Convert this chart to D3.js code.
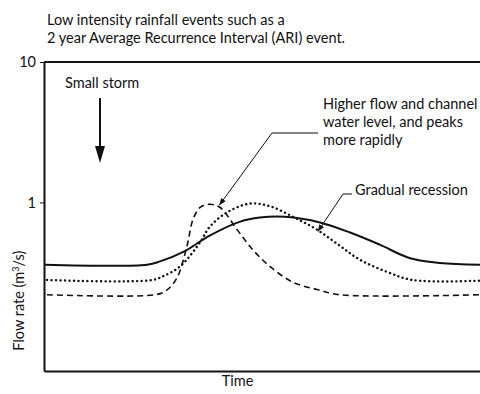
<!DOCTYPE html>
<html>
<head>
<meta charset="utf-8">
<script src="https://cdn.jsdelivr.net/npm/d3@7/dist/d3.min.js"></script>
<style>
  body { margin: 0; background: #fff; }
  svg text { font-family: 'Lato', 'Open Sans', sans-serif; fill: #111; }
</style>
</head>
<body>
<div id="chart"></div>
<script>
// time (0-100, arbitrary units) and flow rate (m3/s)
const solidTime = [0, 23.6, 26.6, 32.3, 38, 45, 49.5, 55.3, 63.3, 70.2, 77, 84, 90.8, 100];
const solidFlow = [0.36, 0.36, 0.38, 0.45, 0.58, 0.73, 0.78, 0.79, 0.72, 0.61, 0.5, 0.4, 0.37, 0.36];

const dottedTime = [0.7, 24.8, 27.5, 31.2, 35.8, 38, 42, 47.2, 51.8, 57.1, 62.6, 67.9, 72.5, 78.7, 84.6, 100];
const dottedFlow = [0.28, 0.28, 0.30, 0.35, 0.52, 0.67, 0.85, 0.98, 0.94, 0.79, 0.64, 0.49, 0.39, 0.32, 0.28, 0.277];

const dashedTime = [0.7, 25.5, 28, 30.5, 32.8, 34.2, 35.8, 38, 40.4, 44.3, 47.9, 51.8, 57.1, 62.6, 67.9, 100];
const dashedFlow = [0.22, 0.22, 0.235, 0.29, 0.49, 0.76, 0.92, 0.97, 0.92, 0.64, 0.46, 0.35, 0.27, 0.24, 0.22, 0.22];

const yTicks = [1, 10];
const titleLines = ['Low intensity rainfall events such as a', '2 year Average Recurrence Interval (ARI) event.'];
const noteLines = ['Higher flow and channel', 'water level, and peaks', 'more rapidly'];

const W = 480, H = 394;
const margin = { top: 62, right: 0, bottom: 23, left: 44 };
const fs = '14.5px';

const svg = d3.select('#chart').append('svg')
  .attr('width', W)
  .attr('height', H);

const x = d3.scaleLinear().domain([0, 100]).range([margin.left, W - margin.right]);
const y = d3.scaleLog().domain([0.063, 10]).range([H - margin.bottom, margin.top]);

const defs = svg.append('defs');
defs.append('marker')
  .attr('id', 'head')
  .attr('viewBox', '0 0 10 10')
  .attr('refX', 10).attr('refY', 5)
  .attr('markerWidth', 7).attr('markerHeight', 7)
  .attr('markerUnits', 'userSpaceOnUse')
  .attr('orient', 'auto')
  .append('path').attr('d', 'M0,1 L10,5 L0,9 Z').attr('fill', '#111');

// title
svg.append('g').selectAll('text')
  .data(titleLines)
  .enter().append('text')
  .attr('x', 47)
  .attr('y', (d, i) => 25 + i * 18)
  .attr('font-size', fs)
  .text(d => d);

// axes
svg.append('g')
  .attr('transform', `translate(${margin.left},0)`)
  .call(d3.axisLeft(y).tickValues(yTicks).tickSize(4).tickSizeOuter(0).tickPadding(4).tickFormat(d3.format('d')))
  .call(g => g.select('.domain').attr('stroke', '#111').attr('stroke-width', 2))
  .call(g => g.selectAll('.tick line').attr('stroke', '#111'))
  .call(g => g.selectAll('.tick text').attr('font-size', fs).attr('font-family', 'Lato, sans-serif').attr('fill', '#111'));

svg.append('g')
  .attr('transform', `translate(0,${H - margin.bottom})`)
  .call(d3.axisBottom(x).tickValues([]).tickSizeOuter(0))
  .call(g => g.select('.domain').attr('stroke', '#111').attr('stroke-width', 2));

svg.append('line')
  .attr('x1', x(0)).attr('x2', x(100))
  .attr('y1', y(10)).attr('y2', y(10))
  .attr('stroke', '#111').attr('stroke-width', 2);

svg.append('text')
  .attr('transform', `translate(24,${(y(1) + y(0.063)) / 2 + 14}) rotate(-90)`)
  .attr('text-anchor', 'middle')
  .attr('font-size', fs)
  .html('Flow rate (m<tspan dy="-5" font-size="9px">3</tspan><tspan dy="5">/s)</tspan>');

svg.append('text')
  .attr('x', x(44.4))
  .attr('y', 386)
  .attr('text-anchor', 'middle')
  .attr('font-size', fs)
  .text('Time');

// curves
const line = d3.line()
  .x(d => x(d[0]))
  .y(d => y(d[1]))
  .curve(d3.curveCatmullRom.alpha(0.5));

const series = [
  { t: solidTime, v: solidFlow, dash: null, w: 2, cap: 'butt' },
  { t: dottedTime, v: dottedFlow, dash: '0.1,4.4', w: 2.4, cap: 'round' },
  { t: dashedTime, v: dashedFlow, dash: '6,4', w: 1.6, cap: 'butt' }
];

svg.append('g').selectAll('path')
  .data(series)
  .enter().append('path')
  .attr('d', s => line(s.t.map((t, i) => [t, s.v[i]])))
  .attr('fill', 'none')
  .attr('stroke', '#111')
  .attr('stroke-width', s => s.w)
  .attr('stroke-linecap', s => s.cap)
  .attr('stroke-dasharray', s => s.dash);

// annotations
svg.append('text')
  .attr('x', 65).attr('y', 88)
  .attr('font-size', fs)
  .text('Small storm');

svg.append('line')
  .attr('x1', 100).attr('y1', 98)
  .attr('x2', 100).attr('y2', 147)
  .attr('stroke', '#111').attr('stroke-width', 2);
svg.append('path')
  .attr('d', 'M95,146 L105,146 L100,163 Z')
  .attr('fill', '#111');

svg.append('g').selectAll('text')
  .data(noteLines)
  .enter().append('text')
  .attr('x', 323)
  .attr('y', (d, i) => 109 + i * 18)
  .attr('font-size', fs)
  .text(d => d);

svg.append('path')
  .attr('d', `M318,133 L272,133 L${x(40.2)},${y(0.97) + 1}`)
  .attr('fill', 'none')
  .attr('stroke', '#111')
  .attr('stroke-width', 1)
  .attr('marker-end', 'url(#head)');

svg.append('text')
  .attr('x', 355).attr('y', 195)
  .attr('font-size', fs)
  .text('Gradual recession');

svg.append('path')
  .attr('d', `M352,194 L343,194 L${x(62.8)},${y(0.62)}`)
  .attr('fill', 'none')
  .attr('stroke', '#111')
  .attr('stroke-width', 1)
  .attr('marker-end', 'url(#head)');
</script>
</body>
</html>
